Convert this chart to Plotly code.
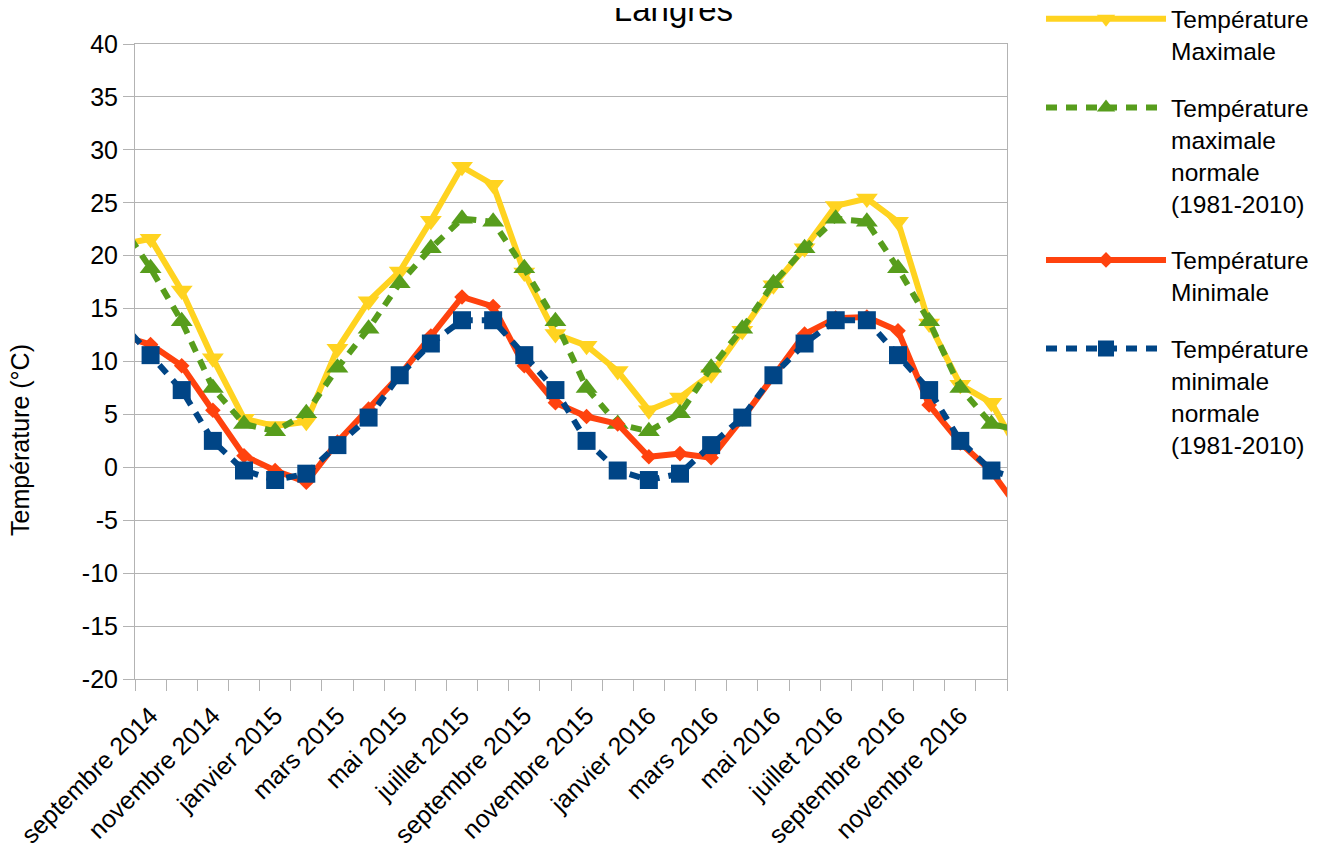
import plotly.graph_objects as go

# Categories (août 2014 and janvier 2017 lie just outside the visible range; their segments are clipped)
mois = [
    "août 2014",
    "septembre 2014", "octobre 2014", "novembre 2014", "décembre 2014",
    "janvier 2015", "février 2015", "mars 2015", "avril 2015", "mai 2015", "juin 2015",
    "juillet 2015", "août 2015", "septembre 2015", "octobre 2015", "novembre 2015", "décembre 2015",
    "janvier 2016", "février 2016", "mars 2016", "avril 2016", "mai 2016", "juin 2016",
    "juillet 2016", "août 2016", "septembre 2016", "octobre 2016", "novembre 2016", "décembre 2016",
    "janvier 2017",
]
x_pos = list(range(-1, len(mois) - 1))

temp_max = [21.0,
            21.6, 16.7, 10.3, 4.6, 3.9, 4.3, 11.2, 15.7, 18.5, 23.3, 28.4, 26.7,
            18.4, 12.6, 11.5, 9.1, 5.4, 6.6, 8.8, 12.9, 17.2, 20.7, 24.7, 25.4,
            23.2, 13.6, 7.8, 6.1,
            0.9]
temp_max_norm = [23.2,
                 18.8, 13.8, 7.5, 4.1, 3.4, 5.1, 9.4, 13.1, 17.4, 20.7, 23.5, 23.2,
                 18.8, 13.8, 7.5, 4.1, 3.4, 5.1, 9.4, 13.1, 17.4, 20.7, 23.5, 23.2,
                 18.8, 13.8, 7.5, 4.1,
                 3.4]
temp_min = [12.5,
            11.6, 9.6, 5.4, 1.1, -0.3, -1.4, 2.4, 5.5, 8.7, 12.4, 16.1, 15.2,
            9.6, 6.1, 4.8, 4.1, 1.0, 1.3, 0.9, 4.6, 8.6, 12.6, 14.1, 14.2,
            12.9, 5.9, 2.3, -0.4,
            -4.4]
temp_min_norm = [13.9,
                 10.6, 7.3, 2.5, -0.3, -1.2, -0.6, 2.1, 4.7, 8.7, 11.7, 13.9, 13.9,
                 10.6, 7.3, 2.5, -0.3, -1.2, -0.6, 2.1, 4.7, 8.7, 11.7, 13.9, 13.9,
                 10.6, 7.3, 2.5, -0.3,
                 -1.2]

x_tick_vals = x_pos[1:28:2]
x_tick_text = mois[1:28:2]
y_tick_vals = [-20, -15, -10, -5, 0, 5, 10, 15, 20, 25, 30, 35, 40]
y_tick_text = ["-20", "-15", "-10", "-5", "0", "5", "10", "15", "20", "25", "30", "35", "40"]

noms = [
    "Température<br>Maximale",
    "Température<br>maximale<br>normale<br>(1981-2010)",
    "Température<br>Minimale",
    "Température<br>minimale<br>normale<br>(1981-2010)",
]

FONT = "Liberation Sans, Arial, sans-serif"
GRID = "#b3b3b3"
TICK_SIZE = 25

fig = go.Figure()
series = [
    (temp_max, noms[0], "#ffd320", "solid", "triangle-down", 19),
    (temp_max_norm, noms[1], "#579d1c", "11px,9px", "triangle-up", 19),
    (temp_min, noms[2], "#ff420e", "solid", "diamond", 12),
    (temp_min_norm, noms[3], "#004586", "11px,9px", "square", 18),
]
for i, (vals, nom, col, dash, sym, size) in enumerate(series):
    fig.add_trace(go.Scatter(
        x=x_pos, y=vals, name=nom, mode="lines+markers", legendgroup=f"g{i}",
        line=dict(color=col, width=6, dash=dash),
        marker=dict(symbol=sym, size=size, color=col, line=dict(width=0)),
        cliponaxis=True,
    ))

fig.update_layout(
    template="none",
    width=1312, height=837,
    paper_bgcolor="white", plot_bgcolor="white",
    margin=dict(l=127, r=313, t=36, b=166, autoexpand=False),
    font=dict(family=FONT, size=24, color="black"),
    title=dict(text="Langres", x=665.5 / 1312, xanchor="center", xref="container",
               y=1 - 1.0 / 837, yanchor="middle", yref="container",
               font=dict(family=FONT, size=33, color="black")),
    showlegend=True,
    legend=dict(x=1.039, xanchor="left", y=1.075, yanchor="top",
                itemwidth=120, valign="top", bgcolor="rgba(0,0,0,0)",
                font=dict(family=FONT, size=24.5, color="black"),
                traceorder="grouped", tracegroupgap=22, maxheight=830,
                itemclick=False),
    xaxis=dict(
        range=[-0.5, 27.5], autorange=False, automargin=False,
        tickmode="array", tickvals=x_tick_vals, ticktext=x_tick_text,
        tickangle=-45, tickfont=dict(family=FONT, size=TICK_SIZE, color="black"),
        ticks="outside", ticklen=11, tickcolor="rgba(0,0,0,0)",
        showgrid=False, zeroline=False,
        showline=True, linecolor=GRID, linewidth=1, mirror=True,
        minor=dict(ticks="outside", ticklen=11, tickcolor=GRID, tickwidth=1,
                   tickmode="linear", tick0=-0.5, dtick=1, showgrid=False),
    ),
    yaxis=dict(
        range=[-20, 40], autorange=False, automargin=False,
        tickmode="array", tickvals=y_tick_vals, ticktext=y_tick_text,
        tickfont=dict(family=FONT, size=TICK_SIZE, color="black"),
        ticks="outside", ticklen=11, tickcolor=GRID, tickwidth=1,
        showgrid=True, gridcolor=GRID, gridwidth=1, zeroline=False,
        showline=True, linecolor=GRID, linewidth=1, mirror=True,
    ),
    annotations=[dict(
        text="Température (°C)", textangle=-90,
        xref="paper", yref="paper", x=(20 - 135) / 872, y=(679 - 440) / 635,
        xanchor="center", yanchor="middle", showarrow=False,
        font=dict(family=FONT, size=25, color="black"),
    )],
)

fig.write_html("out.html")
